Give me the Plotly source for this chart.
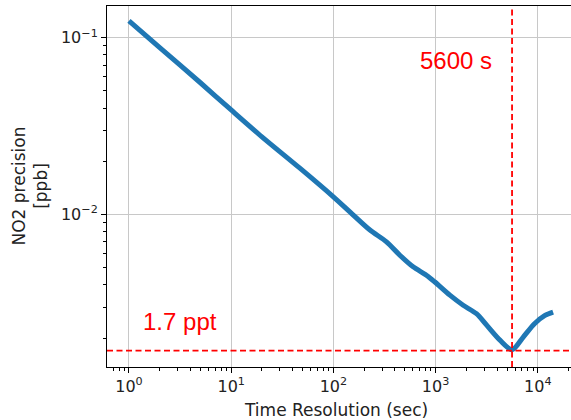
import plotly.graph_objects as go

# ---- data ----
tau_sec = [1, 2, 5, 10, 20, 47, 100, 145, 228, 331, 447, 603, 813, 977,
           1380, 1862, 2512, 3162, 4266, 5600, 7211, 9333, 11749, 14125]
precision_ppb = [0.1245, 0.0879, 0.0556, 0.0390, 0.0275, 0.01828, 0.01259,
                 0.01035, 0.00817, 0.00701, 0.00589, 0.00506, 0.00454, 0.00417,
                 0.00350, 0.00307, 0.00275, 0.00237, 0.00195, 0.00172, 0.00203,
                 0.00242, 0.00269, 0.00281]
min_tau = 5600
min_precision = 0.0017
min_tau_label = "5600 s"
min_precision_label = "1.7 ppt"

x_tick_vals = [1, 10, 100, 1000, 10000]
x_tick_text = ["10<sup>0</sup>", "10<sup>1</sup>", "10<sup>2</sup>",
               "10<sup>3</sup>", "10<sup>4</sup>"]
y_tick_vals = [0.01, 0.1]
y_tick_text = ["10<sup>\u22122</sup>", "10<sup>\u22121</sup>"]

x_title = "Time Resolution (sec)"
y_title = "NO2 precision<br>[ppb]"

# ---- figure ----
W, H = 571, 420
L, R, T, B = 107, 0, 6, 53

minor_x = [m * 10 ** k for k in range(-1, 5) for m in range(2, 10)]
minor_y = [m * 10 ** k for k in range(-3, 0) for m in range(2, 10)]

fig = go.Figure()
fig.add_trace(go.Scatter(
    x=tau_sec, y=precision_ppb, mode="lines",
    line=dict(color="#1f77b4", width=5, shape="spline", smoothing=0.8),
    showlegend=False, hoverinfo="skip",
))

red = "#ff0000"
fig.add_shape(type="line", xref="x", yref="paper", x0=min_tau, x1=min_tau,
              y0=0, y1=1, line=dict(color=red, width=1.8, dash="6px,3.5px"))
fig.add_shape(type="line", xref="paper", yref="y", x0=0, x1=1,
              y0=min_precision, y1=min_precision,
              line=dict(color=red, width=1.8, dash="6px,3.5px"))

axis_font = dict(family="DejaVu Sans", size=16, color="#222222")

fig.update_xaxes(
    type="log", range=[-0.215, 4.325],
    tickmode="array", tickvals=x_tick_vals, ticktext=x_tick_text,
    ticks="outside", ticklen=5, tickwidth=1, tickcolor="black",
    showline=True, linecolor="black", linewidth=1, mirror=True,
    showgrid=True, gridcolor="#c8c8c8", gridwidth=1,
    zeroline=False, tickfont=axis_font,
    minor=dict(tickmode="array", tickvals=minor_x, ticks="outside",
               ticklen=3, tickcolor="black", tickwidth=0.8, showgrid=False),
)
fig.update_yaxes(
    type="log", range=[-2.862, -0.821],
    tickmode="array", tickvals=y_tick_vals, ticktext=y_tick_text,
    ticks="outside", ticklen=5, tickwidth=1, tickcolor="black",
    showline=True, linecolor="black", linewidth=1, mirror=False,
    showgrid=True, gridcolor="#c8c8c8", gridwidth=1,
    zeroline=False, tickfont=axis_font,
    minor=dict(tickmode="array", tickvals=minor_y, ticks="outside",
               ticklen=3, tickcolor="black", tickwidth=0.8, showgrid=False),
)

pw = W - L - R
ph = H - T - B
title_font = dict(family="DejaVu Sans", size=17, color="#222222")
fig.add_annotation(text=x_title, xref="paper", yref="paper",
                   x=(336 - L) / pw, y=(H - B - 410) / ph,
                   xanchor="center", yanchor="middle", showarrow=False,
                   font=title_font)
fig.add_annotation(text=y_title, xref="paper", yref="paper",
                   x=(29 - L) / pw, y=0.5, textangle=-90,
                   xanchor="center", yanchor="middle", showarrow=False,
                   font=title_font)

label_font = dict(family="Liberation Sans", size=24, color=red)
fig.add_annotation(text=min_tau_label, xref="paper", yref="paper",
                   x=(456 - L) / pw, y=(H - B - 60) / ph,
                   xanchor="center", yanchor="middle", showarrow=False,
                   font=label_font)
fig.add_annotation(text=min_precision_label, xref="paper", yref="paper",
                   x=(180 - L) / pw, y=(H - B - 321) / ph,
                   xanchor="center", yanchor="middle", showarrow=False,
                   font=label_font)

fig.update_layout(
    width=W, height=H,
    margin=dict(l=L, r=R, t=T, b=B, autoexpand=False),
    plot_bgcolor="white", paper_bgcolor="white",
)

fig.write_html(
    "out.html",
    config={"displayModeBar": False},
    post_script="document.body.style.margin='0';document.body.style.overflow='hidden';",
)
